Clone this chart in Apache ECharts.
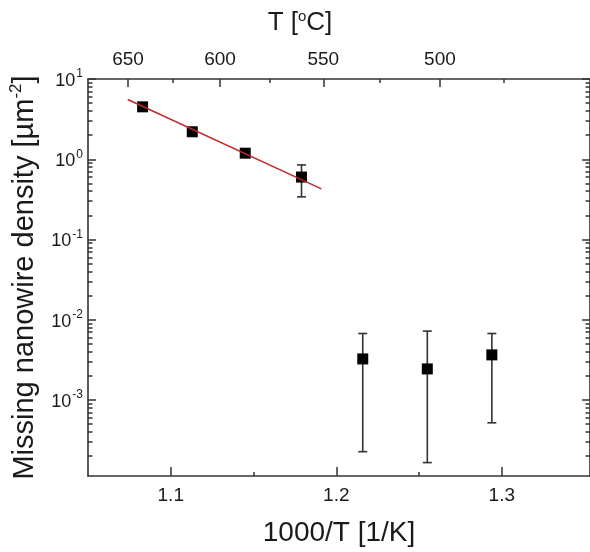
<!DOCTYPE html>
<html><head><meta charset="utf-8">
<script src="https://cdn.jsdelivr.net/npm/echarts@6/dist/echarts.min.js"></script>
<style>html,body{margin:0;padding:0;background:#fff}#c{width:590px;height:552px}</style>
</head><body><div id="c"></div>
<script>
// ---- data ----
const invT      = [1.083, 1.113, 1.145, 1.179, 1.216, 1.255, 1.294];   // 1000/T [1/K]
const density   = [4.5, 2.2, 1.19, 0.60, 3.25e-3, 2.44e-3, 3.65e-3];  // µm^-2
const errLow    = [null, null, null, 0.34, 2.27e-4, 1.66e-4, 5.2e-4];
const errHigh   = [null, null, null, 0.85, 6.74e-3, 7.22e-3, 6.74e-3];
const fitX      = [1.074, 1.191];
const fitY      = [5.55, 0.428];
const bottomTicks = [1.1, 1.2, 1.3];
const bottomMinor = [1.15, 1.25];
const tempTicks   = [650, 600, 550, 500];   // °C
const tempMinor   = [625, 575, 525, 475];
const yMajor      = [1e-3, 1e-2, 1e-1, 1, 10];

// ---- helpers ----
const toInv = t => 1000 / (t + 273.15);
const yMinor = [];
for (let e = -4; e <= 0; e++) for (let k = 2; k <= 9; k++) yMinor.push(k * Math.pow(10, e));
const Y_MIN = 1.13e-4, Y_MAX = 10;
const AX = '#333';
const TXT = '#1a1a1a';
const FONT = 'Liberation Sans, Arial, sans-serif';
const supRich = {
  b: {fontSize: 18, fontFamily: FONT, color: TXT, verticalAlign: 'bottom', lineHeight: 22},
  s: {fontSize: 12, fontFamily: FONT, color: TXT, verticalAlign: 'bottom', lineHeight: 22, padding: [0, 0, 10, 1]}
};
const nameRich = {
  b: {fontSize: 29, fontFamily: FONT, color: TXT, verticalAlign: 'bottom', lineHeight: 33},
  s: {fontSize: 17, fontFamily: FONT, color: TXT, verticalAlign: 'bottom', lineHeight: 33, padding: [0, 0, 14, 0]}
};
const topRich = {
  b: {fontSize: 26, fontFamily: FONT, color: TXT, verticalAlign: 'bottom', lineHeight: 30},
  s: {fontSize: 15, fontFamily: FONT, color: TXT, verticalAlign: 'bottom', lineHeight: 30, padding: [0, 0, 12, 0]}
};

const line = {show: true, lineStyle: {color: AX, width: 1.6}};
const noLine = {show: false};

function xAx(opts) {
  return Object.assign({type: 'value', splitLine: {show: false}, axisLine: noLine,
    axisLabel: {show: false}}, opts);
}
function yAx(opts) {
  return Object.assign({type: 'log', logBase: 10, min: Y_MIN, max: Y_MAX, splitLine: {show: false},
    axisLine: noLine, axisLabel: {show: false}}, opts);
}

const errData = invT.map((x, i) => errLow[i] == null ? null : [x, errLow[i], errHigh[i]]).filter(d => d);

const option = {
  animation: false,
  backgroundColor: '#fff',
  grid: {left: 88, right: 0, top: 79, bottom: 73, containLabel: false},
  xAxis: [
    xAx({position: 'bottom', min: 1.05, max: 1.3533, axisLine: line,
      axisTick: {show: true, inside: true, length: 9, customValues: bottomTicks, lineStyle: {color: AX, width: 1.5}},
      axisLabel: {show: true, customValues: bottomTicks, margin: 10, fontSize: 19, fontFamily: FONT, color: TXT,
        formatter: v => v.toFixed(1)},
      name: '1000/T [1/K]', nameLocation: 'middle', nameGap: 43,
      nameTextStyle: {fontSize: 28, fontFamily: FONT, color: TXT}}),
    xAx({position: 'bottom', min: 1.05, max: 1.3533,
      axisTick: {show: true, inside: true, length: 4, customValues: bottomMinor, lineStyle: {color: AX, width: 1.5}}}),
    xAx({position: 'top', min: 1.0563, max: 1.3945, axisLine: line,
      axisTick: {show: true, inside: true, length: 8, customValues: tempTicks.map(toInv), lineStyle: {color: AX, width: 1.5}},
      axisLabel: {show: true, customValues: tempTicks.map(toInv), margin: 10, fontSize: 19, fontFamily: FONT, color: TXT,
        formatter: v => String(Math.round(1000 / v - 273.15))},
      name: '{b|T [}{s|o}{b|C]}', nameLocation: 'middle', nameGap: 43,
      nameTextStyle: {rich: topRich, padding: [0, 78, 0, 0]}}),
    xAx({position: 'top', min: 1.0563, max: 1.3945,
      axisTick: {show: true, inside: true, length: 4, customValues: tempMinor.map(toInv), lineStyle: {color: AX, width: 1.5}}})
  ],
  yAxis: [
    yAx({position: 'left', axisLine: line,
      axisTick: {show: true, inside: true, length: 8, customValues: yMajor, lineStyle: {color: AX, width: 1.5}},
      axisLabel: {show: true, customValues: yMajor, margin: 5, rich: supRich,
        formatter: v => '{b|10}{s|' + Math.round(Math.log10(v)) + '}'},
      name: '{b|Missing nanowire density [µm}{s|-2}{b|]}', nameLocation: 'middle', nameGap: 49,
      nameTextStyle: {rich: nameRich}}),
    yAx({position: 'left',
      axisTick: {show: true, inside: true, length: 4.5, customValues: yMinor, lineStyle: {color: AX, width: 1.5}}}),
    yAx({position: 'right', axisLine: line,
      axisTick: {show: true, inside: true, length: 8, customValues: yMajor, lineStyle: {color: AX, width: 1.5}}}),
    yAx({position: 'right',
      axisTick: {show: true, inside: true, length: 4.5, customValues: yMinor, lineStyle: {color: AX, width: 1.5}}})
  ],
  series: [
    {
      type: 'custom', xAxisIndex: 0, yAxisIndex: 0, z: 2,
      data: errData,
      encode: {x: 0, y: [1, 2]},
      renderItem: function (params, api) {
        const x = api.value(0);
        const lo = api.coord([x, api.value(1)]);
        const hi = api.coord([x, api.value(2)]);
        const w = 4.5;
        const st = {stroke: '#333', lineWidth: 1.6};
        return {type: 'group', children: [
          {type: 'line', shape: {x1: lo[0], y1: lo[1], x2: hi[0], y2: hi[1]}, style: st},
          {type: 'line', shape: {x1: lo[0] - w, y1: lo[1], x2: lo[0] + w, y2: lo[1]}, style: st},
          {type: 'line', shape: {x1: hi[0] - w, y1: hi[1], x2: hi[0] + w, y2: hi[1]}, style: st}
        ]};
      }
    },
    {
      type: 'scatter', xAxisIndex: 0, yAxisIndex: 0, z: 3,
      symbol: 'rect', symbolSize: 11,
      itemStyle: {color: '#000', opacity: 1},
      data: invT.map((x, i) => [x, density[i]])
    },
    {
      type: 'line', xAxisIndex: 0, yAxisIndex: 0, z: 4,
      symbol: 'none', lineStyle: {color: '#c0282a', width: 1.5},
      data: fitX.map((x, i) => [x, fitY[i]])
    }
  ]
};
const chart = echarts.init(document.getElementById('c'), null, {renderer: 'canvas'});
chart.setOption(option);
</script>
</body></html>
